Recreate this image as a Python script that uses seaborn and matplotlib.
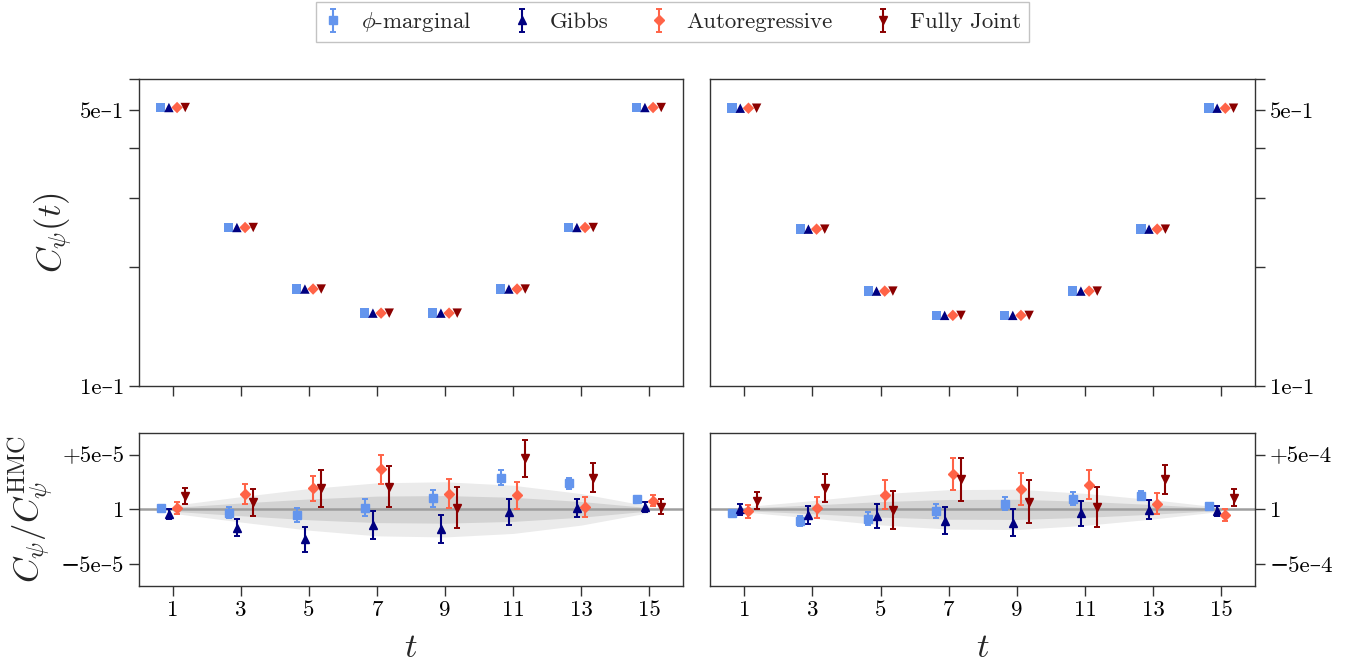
import numpy as np
import matplotlib
matplotlib.use("Agg")
import matplotlib.pyplot as plt
import seaborn as sns

# ---------------- data ----------------
t = np.array([1, 3, 5, 7, 9, 11, 13, 15])
methods = [r"$\phi$-marginal", "Gibbs", "Autoregressive", "Fully Joint"]
colors = ["#6495ED", "#000080", "#FF6347", "#8B0000"]
markers = ["s", "^", "D", "v"]
offsets = [-0.36, -0.12, 0.12, 0.36]

# top panels: correlator C_psi(t)
corr_left = [0.508, 0.2522, 0.1761, 0.1530, 0.1530, 0.1761, 0.2522, 0.508]
corr_right = [0.506, 0.2498, 0.1740, 0.1510, 0.1510, 0.1740, 0.2498, 0.506]

# bottom-left: ratio - 1 (units of 1e-5)
left_phi = [0.09, -0.30, -0.55, 0.15, 1.00, 2.88, 2.38, 0.94]
left_phi_err = [0.15, 0.50, 0.64, 0.76, 0.74, 0.67, 0.50, 0.15]
left_gibbs = [-0.42, -1.67, -2.73, -1.45, -1.82, -0.24, 0.11, 0.21]
left_gibbs_err = [0.45, 0.80, 1.12, 1.27, 1.27, 1.15, 0.83, 0.42]
left_auto = [0.15, 1.42, 1.91, 3.64, 1.44, 1.27, 0.24, 0.80]
left_auto_err = [0.53, 0.91, 1.18, 1.32, 1.35, 1.21, 0.91, 0.50]
left_joint = [1.21, 0.64, 1.91, 2.06, 0.15, 4.65, 2.89, 0.26]
left_joint_err = [0.70, 1.24, 1.67, 1.88, 1.88, 1.71, 1.32, 0.71]
left_hmc_err = [0.18, 0.58, 0.95, 1.21, 1.26, 1.10, 0.72, 0.15]

# bottom-right: ratio - 1 (units of 1e-4)
right_phi = [-0.30, -1.05, -0.85, -0.18, 0.53, 0.98, 1.24, 0.30]
right_phi_err = [0.15, 0.44, 0.58, 0.64, 0.62, 0.59, 0.42, 0.15]
right_gibbs = [0.00, -0.48, -0.58, -1.05, -1.21, -0.36, -0.03, -0.18]
right_gibbs_err = [0.48, 0.82, 1.09, 1.23, 1.24, 1.12, 0.85, 0.45]
right_auto = [-0.18, 0.15, 1.32, 3.20, 1.83, 2.26, 0.52, -0.52]
right_auto_err = [0.58, 0.97, 1.32, 1.47, 1.47, 1.32, 0.97, 0.55]
right_joint = [0.80, 1.94, -0.08, 2.73, 0.71, 0.23, 2.73, 1.06]
right_joint_err = [0.74, 1.27, 1.74, 1.94, 1.98, 1.80, 1.36, 0.76]
right_hmc_err = [0.12, 0.40, 0.71, 0.90, 0.92, 0.73, 0.44, 0.09]

x_ticks = [1, 3, 5, 7, 9, 11, 13, 15]
top_ticks = [0.1, 0.2, 0.3, 0.4, 0.5, 0.6]
top_ticklabels = ["1e\u20131", "", "", "", "5e\u20131", ""]
left_ratio_ticklabels = ["+5e\u20135", "1", "\u22125e\u20135"]
right_ratio_ticklabels = ["+5e\u20134", "1", "\u22125e\u20134"]

# ---------------- style ----------------
sns.set_theme(style="ticks")
plt.rcParams["font.family"] = ["cmr10", "DejaVu Serif"]
plt.rcParams["mathtext.fontset"] = "cm"
plt.rcParams["axes.formatter.use_mathtext"] = True
plt.rcParams["axes.edgecolor"] = "#333333"
plt.rcParams["axes.linewidth"] = 1.0
plt.rcParams["xtick.color"] = "#333333"
plt.rcParams["ytick.color"] = "#333333"
plt.rcParams["xtick.labelcolor"] = "black"
plt.rcParams["ytick.labelcolor"] = "black"

TICK_FS = 16.5
LABEL_FS = 25

fig = plt.figure(figsize=(13.69, 6.62), dpi=100)
ax_tl = fig.add_axes([0.10153, 0.41692, 0.39737, 0.46374])
ax_tr = fig.add_axes([0.51885, 0.41692, 0.39810, 0.46374])
ax_bl = fig.add_axes([0.10153, 0.11480, 0.39737, 0.23157])
ax_br = fig.add_axes([0.51885, 0.11480, 0.39810, 0.23157])

# ---------------- top panels ----------------
for ax, corr in [(ax_tl, corr_left), (ax_tr, corr_right)]:
    for off, c, m in zip(offsets, colors, markers):
        sns.scatterplot(x=t + off, y=corr, ax=ax, marker=m, color=c,
                        s=46 if m != "D" else 34, edgecolor="none", linewidth=0,
                        legend=False, zorder=3)
    ax.set_yscale("log")
    ax.set_ylim(0.1, 0.6)
    ax.set_yticks(top_ticks)
    ax.set_yticklabels(top_ticklabels)
    ax.yaxis.set_minor_locator(matplotlib.ticker.NullLocator())
    ax.set_xlim(0, 16)
    ax.set_xticks(x_ticks)
    ax.set_xticklabels([])
    ax.tick_params(direction="out", length=7, width=1, labelsize=TICK_FS)
    ax.set_xlabel("")
    ax.set_ylabel("")

ax_tl.set_ylabel(r"$C_\psi(t)$", fontsize=LABEL_FS)
ax_tr.yaxis.tick_right()

# ---------------- bottom panels ----------------
def ratio_panel(ax, series, errs, hmc_err, scale, ticklabels):
    hmc = np.array(hmc_err) * scale
    ax.fill_between(t, -2 * hmc, 2 * hmc, color="#ebebeb", linewidth=0, zorder=0)
    ax.fill_between(t, -hmc, hmc, color="#d3d3d3", linewidth=0, zorder=1)
    ax.axhline(0, color="#9e9e9e", lw=1.8, zorder=1.5)
    handles = []
    for vals, err, off, c, m, lab in zip(series, errs, offsets, colors, markers, methods):
        h = ax.errorbar(t + off, np.array(vals) * scale, yerr=np.array(err) * scale,
                        fmt=m, color=c, ms=6 if m != "D" else 5.4, capsize=2.4,
                        elinewidth=1.5, capthick=1.4, label=lab, zorder=3)
        handles.append(h)
    ax.set_xlim(0, 16)
    ax.set_ylim(-7 * scale, 7 * scale)
    ax.set_yticks([5 * scale, 0, -5 * scale])
    ax.set_yticklabels(ticklabels)
    ax.set_xticks(x_ticks)
    ax.set_xticklabels([str(v) for v in x_ticks])
    ax.tick_params(direction="out", length=7, width=1, labelsize=TICK_FS)
    ax.set_xlabel(r"$t$", fontsize=LABEL_FS, labelpad=9)
    return handles

handles = ratio_panel(ax_bl,
                      [left_phi, left_gibbs, left_auto, left_joint],
                      [left_phi_err, left_gibbs_err, left_auto_err, left_joint_err],
                      left_hmc_err, 1e-5, left_ratio_ticklabels)
ratio_panel(ax_br,
            [right_phi, right_gibbs, right_auto, right_joint],
            [right_phi_err, right_gibbs_err, right_auto_err, right_joint_err],
            right_hmc_err, 1e-4, right_ratio_ticklabels)
ax_bl.set_ylabel(r"$C_\psi/C_\psi^{\mathrm{HMC}}$", fontsize=LABEL_FS, labelpad=4)
ax_br.yaxis.tick_right()

fig.legend(handles, methods, loc="upper center", bbox_to_anchor=(0.4915, 1.0),
           ncol=4, frameon=True, fancybox=False, edgecolor="#b5b5b5",
           fontsize=TICK_FS, borderaxespad=0.1, columnspacing=1.8,
           handletextpad=0.8, handlelength=0.8, borderpad=0.35)

fig.savefig("out.png", dpi=100)
